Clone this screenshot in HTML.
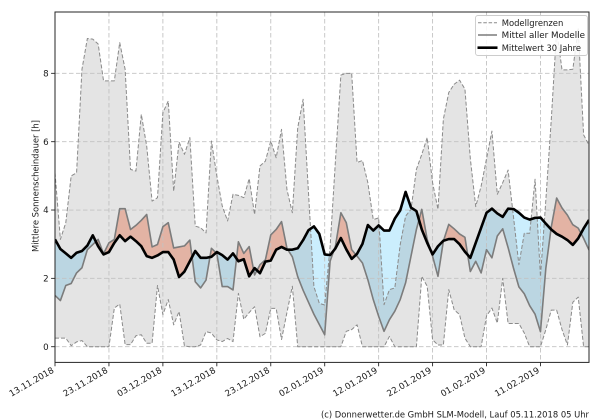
<!DOCTYPE html>
<html><head><meta charset="utf-8"><style>
html,body{margin:0;padding:0;background:#fff;}
svg{display:block;}
text{font-family:"DejaVu Sans","Liberation Sans",sans-serif;fill:#1a1a1a;}
</style></head><body>
<svg width="600" height="420" viewBox="0 0 600 420" xmlns="http://www.w3.org/2000/svg">
<defs>
<clipPath id="axclip"><rect x="55" y="12" width="534" height="350.4"/></clipPath>
<clipPath id="aboveC" clipPathUnits="userSpaceOnUse"><polygon points="0,3.14 1,2.86 2,2.73 3,2.6 4,2.75 5,2.8 6,2.96 7,3.26 8,2.94 9,2.7 10,2.77 11,3.04 12,3.26 13,3.09 14,3.22 15,3.09 16,2.94 17,2.65 18,2.6 19,2.67 20,2.77 21,2.77 22,2.55 23,2.04 24,2.2 25,2.5 26,2.8 27,2.6 28,2.6 29,2.63 30,2.77 31,2.68 32,2.55 33,2.73 34,2.5 35,2.56 36,2.06 37,2.3 38,2.15 39,2.49 40,2.52 41,2.84 42,2.92 43,2.84 44,2.84 45,2.88 46,3.12 47,3.41 48,3.52 49,3.3 50,2.7 51,2.68 52,2.88 53,3.18 54,2.85 55,2.57 56,2.72 57,3.01 58,3.56 59,3.4 60,3.55 61,3.4 62,3.4 63,3.75 64,3.99 65,4.53 66,4.07 67,3.97 68,3.43 69,3.04 70,2.7 71,2.94 72,3.1 73,3.15 74,3.15 75,3.0 76,2.78 77,2.6 78,3.04 79,3.48 80,3.92 81,4.04 82,3.9 83,3.8 84,4.04 85,4.03 86,3.92 87,3.78 88,3.72 89,3.77 90,3.78 91,3.6 92,3.43 93,3.3 94,3.22 95,3.12 96,2.98 97,3.17 98,3.46 99,3.71 99,12 0,12"/></clipPath>
<clipPath id="belowC" clipPathUnits="userSpaceOnUse"><polygon points="0,3.14 1,2.86 2,2.73 3,2.6 4,2.75 5,2.8 6,2.96 7,3.26 8,2.94 9,2.7 10,2.77 11,3.04 12,3.26 13,3.09 14,3.22 15,3.09 16,2.94 17,2.65 18,2.6 19,2.67 20,2.77 21,2.77 22,2.55 23,2.04 24,2.2 25,2.5 26,2.8 27,2.6 28,2.6 29,2.63 30,2.77 31,2.68 32,2.55 33,2.73 34,2.5 35,2.56 36,2.06 37,2.3 38,2.15 39,2.49 40,2.52 41,2.84 42,2.92 43,2.84 44,2.84 45,2.88 46,3.12 47,3.41 48,3.52 49,3.3 50,2.7 51,2.68 52,2.88 53,3.18 54,2.85 55,2.57 56,2.72 57,3.01 58,3.56 59,3.4 60,3.55 61,3.4 62,3.4 63,3.75 64,3.99 65,4.53 66,4.07 67,3.97 68,3.43 69,3.04 70,2.7 71,2.94 72,3.1 73,3.15 74,3.15 75,3.0 76,2.78 77,2.6 78,3.04 79,3.48 80,3.92 81,4.04 82,3.9 83,3.8 84,4.04 85,4.03 86,3.92 87,3.78 88,3.72 89,3.77 90,3.78 91,3.6 92,3.43 93,3.3 94,3.22 95,3.12 96,2.98 97,3.17 98,3.46 99,3.71 99,-2 0,-2"/></clipPath>
</defs>
<rect x="0" y="0" width="600" height="420" fill="#fff"/>

<g clip-path="url(#axclip)">
<g transform="translate(55 346.7) scale(5.394 -34.17)">
<polygon fill="#fec1ae" clip-path="url(#aboveC)" points="0,1.5 1,1.35 2,1.79 3,1.85 4,2.16 5,2.31 6,2.84 7,2.99 8,3.14 9,2.72 10,3.04 11,3.14 12,4.04 13,4.04 14,3.43 15,3.55 16,3.7 17,3.87 18,2.92 19,2.99 20,3.51 21,3.63 22,2.89 23,2.92 24,2.95 25,3.12 26,1.9 27,1.72 28,1.95 29,2.88 30,2.73 31,1.76 32,1.76 33,1.66 34,3.07 35,2.73 36,2.93 37,2.1 38,2.4 39,2.54 40,3.27 41,3.43 42,3.66 43,2.88 44,2.63 45,2.05 46,1.65 47,1.3 48,0.95 49,0.65 50,0.35 51,2.5 52,2.95 53,3.92 54,3.63 55,2.84 56,2.65 57,2.45 58,1.96 59,1.38 60,0.89 61,0.45 62,0.79 63,1.04 64,1.38 65,1.87 66,2.65 67,3.43 68,4.02 69,3.14 70,2.65 71,2.06 72,3.09 73,3.58 74,3.45 75,3.3 76,3.2 77,2.2 78,2.5 79,2.16 80,2.84 81,2.6 82,3.24 83,3.45 84,2.9 85,2.3 86,1.75 87,1.55 88,1.2 89,0.95 90,0.44 91,2.3 92,3.5 93,4.35 94,4.06 95,3.85 96,3.57 97,3.47 98,3.17 99,2.83 99,-2 0,-2"/>
<polygon fill="#cbeefd" clip-path="url(#belowC)" points="0,1.5 1,1.35 2,1.79 3,1.85 4,2.16 5,2.31 6,2.84 7,2.99 8,3.14 9,2.72 10,3.04 11,3.14 12,4.04 13,4.04 14,3.43 15,3.55 16,3.7 17,3.87 18,2.92 19,2.99 20,3.51 21,3.63 22,2.89 23,2.92 24,2.95 25,3.12 26,1.9 27,1.72 28,1.95 29,2.88 30,2.73 31,1.76 32,1.76 33,1.66 34,3.07 35,2.73 36,2.93 37,2.1 38,2.4 39,2.54 40,3.27 41,3.43 42,3.66 43,2.88 44,2.63 45,2.05 46,1.65 47,1.3 48,0.95 49,0.65 50,0.35 51,2.5 52,2.95 53,3.92 54,3.63 55,2.84 56,2.65 57,2.45 58,1.96 59,1.38 60,0.89 61,0.45 62,0.79 63,1.04 64,1.38 65,1.87 66,2.65 67,3.43 68,4.02 69,3.14 70,2.65 71,2.06 72,3.09 73,3.58 74,3.45 75,3.3 76,3.2 77,2.2 78,2.5 79,2.16 80,2.84 81,2.6 82,3.24 83,3.45 84,2.9 85,2.3 86,1.75 87,1.55 88,1.2 89,0.95 90,0.44 91,2.3 92,3.5 93,4.35 94,4.06 95,3.85 96,3.57 97,3.47 98,3.17 99,2.83 99,12 0,12"/>
<polygon fill="#808080" fill-opacity="0.21" points="0,5.09 1,3.14 2,3.63 3,5.0 4,5.09 5,8.12 6,9.02 7,9.0 8,8.86 9,7.78 10,7.78 11,7.78 12,8.9 13,8.12 14,5.19 15,5.14 16,6.8 17,5.87 18,4.26 19,4.36 20,6.85 21,7.19 22,4.55 23,5.99 24,5.63 25,6.12 26,3.53 27,3.48 28,3.33 29,6.02 30,5.0 31,4.12 32,3.68 33,4.46 34,4.43 35,4.36 36,4.92 37,3.87 38,5.29 39,5.43 40,6.02 41,5.53 42,6.36 43,4.6 44,3.92 45,6.41 46,7.24 47,4.49 48,1.76 49,1.27 50,1.22 51,2.93 52,5.46 53,7.95 54,8.0 55,8.0 56,5.39 57,5.45 58,4.8 59,3.72 60,3.77 61,1.23 62,1.67 63,1.72 64,2.99 65,3.82 66,4.02 67,5.19 68,5.63 69,6.12 70,4.8 71,4.02 72,6.66 73,7.44 74,7.68 75,7.8 76,7.54 77,5.5 78,4.1 79,4.7 80,5.5 81,6.31 82,4.46 83,4.8 84,5.17 85,3.8 86,2.4 87,3.32 88,3.32 89,4.9 90,2.05 91,4.3 92,6.63 93,9.27 94,8.1 95,8.1 96,8.12 97,9.3 98,6.2 99,5.9 99,0 98,0 97,1.45 96,1.3 95,0.05 94,0.5 93,1.07 92,1.07 91,0.5 90,0 89,0 88,0 87,0.4 86,0.68 85,0.68 84,0.68 83,2.0 82,0.69 81,1.13 80,0.9 79,0 78,0 77,0 76,0.25 75,0.94 74,1.08 73,1.67 72,0.05 71,0.05 70,0.2 69,1.77 68,2.06 67,0 66,0 65,0 64,0 63,0 62,0.3 61,0 60,0 59,0 58,0 57,0 56,0.64 55,0.5 54,0.45 53,0 52,0 51,0 50,0 49,0 48,0 47,0 46,0 45,0 44,1.77 43,1.0 42,0.21 41,1.12 40,1.12 39,0.39 38,0.29 37,1.17 36,1.0 35,0.8 34,1.56 33,0.15 32,0.24 31,0.15 30,0.2 29,0.4 28,0.44 27,0.05 26,0 25,0 24,0.02 23,1.03 22,0.64 21,1.38 20,0.94 19,1.79 18,0.1 17,0.1 16,0.35 15,0.32 14,0.06 13,0.06 12,1.25 11,1.13 10,0 9,0 8,0 7,0 6,0 5,0.18 4,0.14 3,0.03 2,0.25 1,0.25 0,0.25"/>
</g>

<g stroke="#c2c2c2" stroke-width="0.9" stroke-dasharray="4.5 2.5" fill="none">
<line x1="55" y1="346.7" x2="589" y2="346.7"/>
<line x1="55" y1="278.36" x2="589" y2="278.36"/>
<line x1="55" y1="210.02" x2="589" y2="210.02"/>
<line x1="55" y1="141.68" x2="589" y2="141.68"/>
<line x1="55" y1="73.34" x2="589" y2="73.34"/>
<line x1="108.94" y1="12" x2="108.94" y2="362.4"/>
<line x1="162.88" y1="12" x2="162.88" y2="362.4"/>
<line x1="216.82" y1="12" x2="216.82" y2="362.4"/>
<line x1="270.76" y1="12" x2="270.76" y2="362.4"/>
<line x1="324.7" y1="12" x2="324.7" y2="362.4"/>
<line x1="378.64" y1="12" x2="378.64" y2="362.4"/>
<line x1="432.58" y1="12" x2="432.58" y2="362.4"/>
<line x1="486.52" y1="12" x2="486.52" y2="362.4"/>
<line x1="540.46" y1="12" x2="540.46" y2="362.4"/>
</g>

<g transform="translate(55 346.7) scale(5.394 -34.17)" fill="none" stroke-linejoin="round">
<polyline vector-effect="non-scaling-stroke" stroke="#8a8a8a" stroke-width="1" stroke-dasharray="4 2" points="0,5.09 1,3.14 2,3.63 3,5.0 4,5.09 5,8.12 6,9.02 7,9.0 8,8.86 9,7.78 10,7.78 11,7.78 12,8.9 13,8.12 14,5.19 15,5.14 16,6.8 17,5.87 18,4.26 19,4.36 20,6.85 21,7.19 22,4.55 23,5.99 24,5.63 25,6.12 26,3.53 27,3.48 28,3.33 29,6.02 30,5.0 31,4.12 32,3.68 33,4.46 34,4.43 35,4.36 36,4.92 37,3.87 38,5.29 39,5.43 40,6.02 41,5.53 42,6.36 43,4.6 44,3.92 45,6.41 46,7.24 47,4.49 48,1.76 49,1.27 50,1.22 51,2.93 52,5.46 53,7.95 54,8.0 55,8.0 56,5.39 57,5.45 58,4.8 59,3.72 60,3.77 61,1.23 62,1.67 63,1.72 64,2.99 65,3.82 66,4.02 67,5.19 68,5.63 69,6.12 70,4.8 71,4.02 72,6.66 73,7.44 74,7.68 75,7.8 76,7.54 77,5.5 78,4.1 79,4.7 80,5.5 81,6.31 82,4.46 83,4.8 84,5.17 85,3.8 86,2.4 87,3.32 88,3.32 89,4.9 90,2.05 91,4.3 92,6.63 93,9.27 94,8.1 95,8.1 96,8.12 97,9.3 98,6.2 99,5.9"/>
<polyline vector-effect="non-scaling-stroke" stroke="#8a8a8a" stroke-width="1" stroke-dasharray="4 2" points="0,0.25 1,0.25 2,0.25 3,0.03 4,0.14 5,0.18 6,0 7,0 8,0 9,0 10,0 11,1.13 12,1.25 13,0.06 14,0.06 15,0.32 16,0.35 17,0.1 18,0.1 19,1.79 20,0.94 21,1.38 22,0.64 23,1.03 24,0.02 25,0 26,0 27,0.05 28,0.44 29,0.4 30,0.2 31,0.15 32,0.24 33,0.15 34,1.56 35,0.8 36,1.0 37,1.17 38,0.29 39,0.39 40,1.12 41,1.12 42,0.21 43,1.0 44,1.77 45,0 46,0 47,0 48,0 49,0 50,0 51,0 52,0 53,0 54,0.45 55,0.5 56,0.64 57,0 58,0 59,0 60,0 61,0 62,0.3 63,0 64,0 65,0 66,0 67,0 68,2.06 69,1.77 70,0.2 71,0.05 72,0.05 73,1.67 74,1.08 75,0.94 76,0.25 77,0 78,0 79,0 80,0.9 81,1.13 82,0.69 83,2.0 84,0.68 85,0.68 86,0.68 87,0.4 88,0 89,0 90,0 91,0.5 92,1.07 93,1.07 94,0.5 95,0.05 96,1.3 97,1.45 98,0 99,0"/>
<polyline vector-effect="non-scaling-stroke" stroke="#7c7c7c" stroke-width="1.6" points="0,1.5 1,1.35 2,1.79 3,1.85 4,2.16 5,2.31 6,2.84 7,2.99 8,3.14 9,2.72 10,3.04 11,3.14 12,4.04 13,4.04 14,3.43 15,3.55 16,3.7 17,3.87 18,2.92 19,2.99 20,3.51 21,3.63 22,2.89 23,2.92 24,2.95 25,3.12 26,1.9 27,1.72 28,1.95 29,2.88 30,2.73 31,1.76 32,1.76 33,1.66 34,3.07 35,2.73 36,2.93 37,2.1 38,2.4 39,2.54 40,3.27 41,3.43 42,3.66 43,2.88 44,2.63 45,2.05 46,1.65 47,1.3 48,0.95 49,0.65 50,0.35 51,2.5 52,2.95 53,3.92 54,3.63 55,2.84 56,2.65 57,2.45 58,1.96 59,1.38 60,0.89 61,0.45 62,0.79 63,1.04 64,1.38 65,1.87 66,2.65 67,3.43 68,4.02 69,3.14 70,2.65 71,2.06 72,3.09 73,3.58 74,3.45 75,3.3 76,3.2 77,2.2 78,2.5 79,2.16 80,2.84 81,2.6 82,3.24 83,3.45 84,2.9 85,2.3 86,1.75 87,1.55 88,1.2 89,0.95 90,0.44 91,2.3 92,3.5 93,4.35 94,4.06 95,3.85 96,3.57 97,3.47 98,3.17 99,2.83"/>
<polyline vector-effect="non-scaling-stroke" stroke="#000" stroke-width="2.6" points="0,3.14 1,2.86 2,2.73 3,2.6 4,2.75 5,2.8 6,2.96 7,3.26 8,2.94 9,2.7 10,2.77 11,3.04 12,3.26 13,3.09 14,3.22 15,3.09 16,2.94 17,2.65 18,2.6 19,2.67 20,2.77 21,2.77 22,2.55 23,2.04 24,2.2 25,2.5 26,2.8 27,2.6 28,2.6 29,2.63 30,2.77 31,2.68 32,2.55 33,2.73 34,2.5 35,2.56 36,2.06 37,2.3 38,2.15 39,2.49 40,2.52 41,2.84 42,2.92 43,2.84 44,2.84 45,2.88 46,3.12 47,3.41 48,3.52 49,3.3 50,2.7 51,2.68 52,2.88 53,3.18 54,2.85 55,2.57 56,2.72 57,3.01 58,3.56 59,3.4 60,3.55 61,3.4 62,3.4 63,3.75 64,3.99 65,4.53 66,4.07 67,3.97 68,3.43 69,3.04 70,2.7 71,2.94 72,3.1 73,3.15 74,3.15 75,3.0 76,2.78 77,2.6 78,3.04 79,3.48 80,3.92 81,4.04 82,3.9 83,3.8 84,4.04 85,4.03 86,3.92 87,3.78 88,3.72 89,3.77 90,3.78 91,3.6 92,3.43 93,3.3 94,3.22 95,3.12 96,2.98 97,3.17 98,3.46 99,3.71"/>
</g>
</g>

<rect x="55" y="12" width="534" height="350.4" fill="none" stroke="#262626" stroke-width="1"/>

<g stroke="#262626" stroke-width="0.9">
<line x1="55" y1="362.4" x2="55" y2="366.3"/>
<line x1="108.94" y1="362.4" x2="108.94" y2="366.3"/>
<line x1="162.88" y1="362.4" x2="162.88" y2="366.3"/>
<line x1="216.82" y1="362.4" x2="216.82" y2="366.3"/>
<line x1="270.76" y1="362.4" x2="270.76" y2="366.3"/>
<line x1="324.7" y1="362.4" x2="324.7" y2="366.3"/>
<line x1="378.64" y1="362.4" x2="378.64" y2="366.3"/>
<line x1="432.58" y1="362.4" x2="432.58" y2="366.3"/>
<line x1="486.52" y1="362.4" x2="486.52" y2="366.3"/>
<line x1="540.46" y1="362.4" x2="540.46" y2="366.3"/>
<line x1="51.1" y1="346.7" x2="55" y2="346.7"/>
<line x1="51.1" y1="278.36" x2="55" y2="278.36"/>
<line x1="51.1" y1="210.02" x2="55" y2="210.02"/>
<line x1="51.1" y1="141.68" x2="55" y2="141.68"/>
<line x1="51.1" y1="73.34" x2="55" y2="73.34"/>
</g>

<g font-size="8.7" text-anchor="end">
<text x="48.6" y="349.8">0</text>
<text x="48.6" y="281.5">2</text>
<text x="48.6" y="213.1">4</text>
<text x="48.6" y="144.8">6</text>
<text x="48.6" y="76.4">8</text>
</g>

<text font-size="8.7" text-anchor="middle" transform="translate(38.3 186) rotate(-90)" x="0" y="0" textLength="132" lengthAdjust="spacingAndGlyphs">Mittlere Sonnenscheindauer [h]</text>

<g font-size="8.7" text-anchor="end">
<text x="54.5" y="372" transform="rotate(-30 54.5 372)" textLength="49.8" lengthAdjust="spacingAndGlyphs">13.11.2018</text>
<text x="108.4" y="372" transform="rotate(-30 108.4 372)" textLength="49.8" lengthAdjust="spacingAndGlyphs">23.11.2018</text>
<text x="162.4" y="372" transform="rotate(-30 162.4 372)" textLength="49.8" lengthAdjust="spacingAndGlyphs">03.12.2018</text>
<text x="216.3" y="372" transform="rotate(-30 216.3 372)" textLength="49.8" lengthAdjust="spacingAndGlyphs">13.12.2018</text>
<text x="270.3" y="372" transform="rotate(-30 270.3 372)" textLength="49.8" lengthAdjust="spacingAndGlyphs">23.12.2018</text>
<text x="324.2" y="372" transform="rotate(-30 324.2 372)" textLength="49.8" lengthAdjust="spacingAndGlyphs">02.01.2019</text>
<text x="378.1" y="372" transform="rotate(-30 378.1 372)" textLength="49.8" lengthAdjust="spacingAndGlyphs">12.01.2019</text>
<text x="432.1" y="372" transform="rotate(-30 432.1 372)" textLength="49.8" lengthAdjust="spacingAndGlyphs">22.01.2019</text>
<text x="486" y="372" transform="rotate(-30 486 372)" textLength="49.8" lengthAdjust="spacingAndGlyphs">01.02.2019</text>
<text x="540" y="372" transform="rotate(-30 540 372)" textLength="49.8" lengthAdjust="spacingAndGlyphs">11.02.2019</text>
</g>

<rect x="475.5" y="15.5" width="112" height="40" rx="2.5" fill="#fff" fill-opacity="0.85" stroke="#cccccc" stroke-width="0.9"/>
<line x1="478" y1="22.7" x2="497" y2="22.7" stroke="#8a8a8a" stroke-width="1" stroke-dasharray="3.5 1.8"/>
<line x1="478" y1="35" x2="497" y2="35" stroke="#7c7c7c" stroke-width="1.6"/>
<line x1="477.5" y1="47.7" x2="497.5" y2="47.7" stroke="#000" stroke-width="2.6"/>
<g font-size="8.7">
<text x="501.7" y="25.8" textLength="61.6" lengthAdjust="spacingAndGlyphs">Modellgrenzen</text>
<text x="501.7" y="38.1" textLength="83.3" lengthAdjust="spacingAndGlyphs">Mittel aller Modelle</text>
<text x="501.7" y="50.8" textLength="79.3" lengthAdjust="spacingAndGlyphs">Mittelwert 30 Jahre</text>
</g>

<text x="321" y="417.5" font-size="8.7" textLength="268" lengthAdjust="spacingAndGlyphs">(c) Donnerwetter.de GmbH SLM-Modell, Lauf 05.11.2018 05 Uhr</text>
</svg>
</body></html>
